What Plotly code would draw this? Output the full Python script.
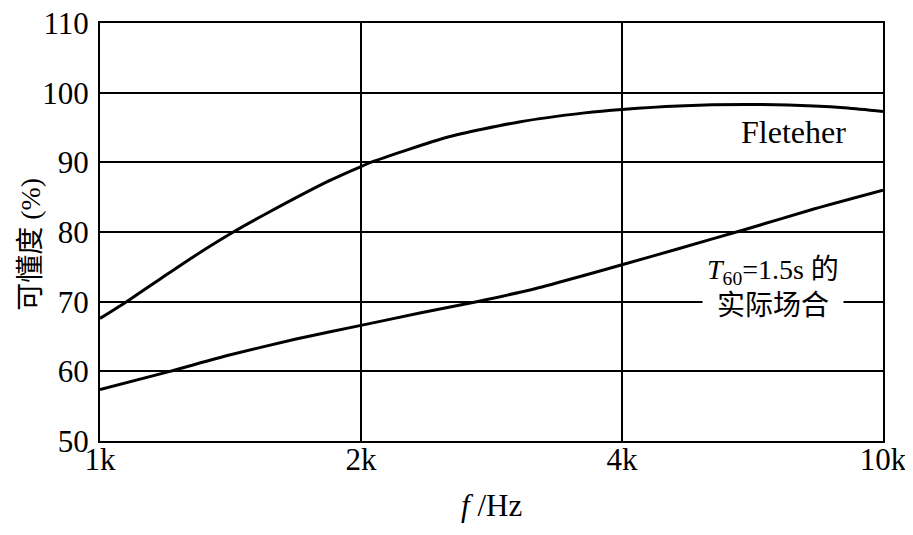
import plotly.graph_objects as go

# x positions along the evenly spaced frequency axis (0=1k, 1=2k, 2=4k, 3=10k)
tick_pos = [0, 1, 2, 3]
tick_text = ["1k", "2k", "4k", "10k"]

fletcher_x = [0.0, 0.102, 0.236, 0.364, 0.511, 0.645, 0.875, 1.0, 1.053, 1.33,
              1.606, 1.857, 2.0, 2.216, 2.475, 2.735, 2.864, 3.0]
fletcher_y = [67.6, 70.0, 73.4, 76.6, 80.0, 82.8, 87.3, 89.4, 90.2, 93.6,
              95.8, 97.1, 97.6, 98.1, 98.3, 98.1, 97.8, 97.3]

room_x = [0.0, 0.268, 0.492, 0.747, 1.0, 1.23, 1.443, 1.67, 1.857, 2.0,
          2.216, 2.475, 2.735, 3.0]
room_y = [57.4, 60.0, 62.3, 64.6, 66.6, 68.4, 70.0, 71.9, 73.8, 75.3,
          77.6, 80.4, 83.3, 86.0]

serif = "Liberation Serif, Noto Sans CJK SC"

fig = go.Figure()
fig.add_trace(go.Scatter(x=fletcher_x, y=fletcher_y, mode="lines",
                         line=dict(color="black", width=3, shape="spline", smoothing=0.6),
                         showlegend=False))
fig.add_trace(go.Scatter(x=room_x, y=room_y, mode="lines",
                         line=dict(color="black", width=3, shape="spline", smoothing=0.6),
                         showlegend=False))

# page body has an 8px margin, so the figure is sized/offset to compensate
fig.update_layout(
    width=905, height=527,
    margin=dict(l=92, r=30, t=15, b=94),
    paper_bgcolor="white", plot_bgcolor="white",
    font=dict(family=serif, color="black"),
    xaxis=dict(range=[0, 3], tickvals=tick_pos, ticktext=tick_text,
               showgrid=True, gridcolor="black", gridwidth=1.5,
               showline=True, linecolor="black", linewidth=2, mirror=True,
               ticks="", ticklabelstandoff=-10, zeroline=False, automargin=False,
               ticklabeloverflow="allow",
               tickfont=dict(size=31, family=serif)),
    yaxis=dict(range=[50, 110], tickvals=[50, 60, 70, 80, 90, 100, 110],
               showgrid=True, gridcolor="black", gridwidth=1.5,
               showline=True, linecolor="black", linewidth=2, mirror=True,
               ticks="", ticklabelstandoff=3, zeroline=False, automargin=False,
               ticklabeloverflow="allow",
               tickfont=dict(size=31, family=serif)),
    annotations=[
        dict(text="可懂度 (%)", xref="paper", yref="paper", x=-0.089, y=0.47,
             xanchor="center", yanchor="middle",
             textangle=-90, showarrow=False, font=dict(size=28, family=serif)),
        dict(text="<i>f</i> /Hz", xref="paper", yref="paper", x=0.5, y=-0.155,
             xanchor="center", yanchor="middle",
             showarrow=False, font=dict(size=31, family=serif)),
        dict(text="Fleteher", x=2.657, y=94.3, showarrow=False,
             font=dict(size=32, family=serif)),
        dict(text="<i>T</i><sub>60</sub>=1.5s 的<br>实际场合", x=2.58, y=72.0,
             showarrow=False, bgcolor="white", borderpad=4,
             font=dict(size=28, family=serif)),
    ],
)

fig.write_html("out.html")
